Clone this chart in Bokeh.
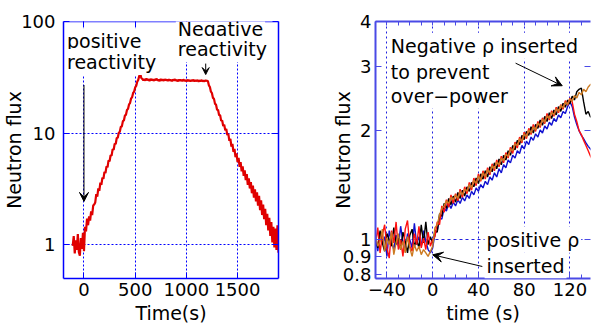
from bokeh.plotting import figure
from bokeh.layouts import row
from bokeh.models import Range1d, LinearAxis, LogAxis, FixedTicker, Label, Arrow, VeeHead, Span
from bokeh.embed import file_html
from bokeh.resources import INLINE

FONT = "DejaVu Sans"

# ---------------- data: left panel (long transient) ----------------
left_time = list(range(-110, 1901, 10))
left_flux = [
    0.98, 1.2, 0.84, 1.1, 0.9, 1.25, 0.86, 0.8, 1.15, 0.92, 1.28, 0.88,
    1.45, 1.32, 1.72, 1.5, 1.8, 1.65, 2.0, 1.85, 2.25, 2.3,
    2.4, 2.85, 2.7, 3.2, 3.05, 3.6, 3.45, 4.0, 3.9, 4.5, 4.4, 5.05, 4.95, 5.7, 5.6,
    6.35, 6.3, 7.2, 7.1, 8.05, 8.0, 9.05, 9.1, 10.1, 10.3, 11.4, 11.5, 12.8, 13.0,
    14.4, 14.6, 16.1, 16.5, 18.1, 18.6, 20.4, 21.0, 22.9, 23.6, 25.7, 26.5, 28.9,
    30.0, 32.5, 34.0,
    31.2, 30.6, 29.7, 30.5, 29.6, 30.8, 29.9, 30.3, 29.4, 30.6, 29.8, 30.4, 29.5,
    30.2, 29.9, 30.7, 29.6, 30.1, 29.3, 30.5, 29.7, 30.2, 29.5, 30.4, 29.8, 30.1,
    29.4, 30.3, 29.6, 30.0, 29.3, 30.2, 29.7, 30.4, 29.5, 29.9, 29.2, 30.1, 29.6,
    29.9, 29.3, 30.2, 29.5, 29.8, 29.2, 30.0, 29.4, 29.9, 29.1, 29.8, 29.4, 30.0,
    29.2, 29.7, 29.3, 29.9, 29.0, 29.6, 29.3, 29.8, 29.1, 29.6, 29.2, 29.7, 29.4,
    29.3, 26.8, 25.9, 23.5, 22.8, 20.7, 20.3, 18.3, 18.0, 16.2, 16.1, 14.5, 14.5,
    12.9, 13.0, 11.6, 11.9, 10.6, 10.9, 9.6, 9.85, 8.55, 8.9, 7.6, 8.0, 6.8, 7.25,
    6.1, 6.6, 5.5, 6.0, 5.0, 5.5, 4.55, 5.05, 4.15, 4.65, 3.8, 4.3, 3.45, 3.95,
    3.2, 3.65, 2.9, 3.4, 2.65, 3.15, 2.45, 2.95, 2.25, 2.75, 2.05, 2.5, 1.85, 2.3,
    1.7, 2.1, 1.5, 1.9, 1.35, 1.75, 1.2, 1.6, 1.05, 1.45, 0.95, 1.4, 0.9, 1.5, 0.85,
]
assert len(left_time) == len(left_flux)

left_xticks = [0, 500, 1000, 1500]
left_xlabels = ["0", "500", "1000", "1500"]
left_yticks = [1, 10, 100]
left_ylabels = ["1", "10", "100"]

# ---------------- data: right panel (zoom, 4 runs) ----------------
right_time = list(range(-50, 141, 2))
run_black = [
    1.02, 0.95, 1.06, 0.98, 0.93, 1.04, 1.0, 0.96, 1.08, 0.97, 1.01, 0.94, 1.05,
    0.99, 0.92, 1.03, 1.07, 0.96, 1.0, 0.95, 1.1, 0.98, 1.12, 0.97, 1.02, 0.98,
    1.06, 1.05, 1.18, 1.16, 1.26, 1.22, 1.30, 1.25, 1.32, 1.27, 1.35, 1.30, 1.37,
    1.32, 1.40, 1.36, 1.44, 1.40, 1.48, 1.43, 1.52, 1.47, 1.55, 1.49, 1.59, 1.54,
    1.63, 1.57, 1.67, 1.61, 1.71, 1.66, 1.76, 1.71, 1.82, 1.77, 1.88, 1.83, 1.94,
    1.89, 1.99, 1.94, 2.05, 1.97, 2.08, 2.03, 2.14, 2.07, 2.19, 2.12, 2.24, 2.16,
    2.28, 2.21, 2.33, 2.26, 2.38, 2.32, 2.43, 2.37, 2.49, 2.43, 2.56, 2.60, 2.62,
    2.40, 2.22, 2.26, 2.18, 2.20,
]
run_red = [
    0.97, 1.08, 0.92, 1.03, 1.1, 0.95, 0.89, 1.06, 0.98, 1.12, 0.94, 1.0, 0.9,
    1.07, 1.13, 0.96, 0.93, 1.04, 0.97, 1.09, 0.95, 1.01, 0.94, 1.05, 0.96, 1.0,
    1.02, 1.12, 1.10, 1.24, 1.19, 1.29, 1.23, 1.33, 1.26, 1.34,
    1.28, 1.38, 1.31, 1.40, 1.34, 1.44, 1.37, 1.48, 1.41, 1.52,
    1.45, 1.55, 1.47, 1.58, 1.51, 1.62, 1.55, 1.66, 1.59, 1.70,
    1.63, 1.74, 1.68, 1.80, 1.73, 1.86, 1.79, 1.92, 1.85, 1.98,
    1.90, 2.03, 1.95, 2.08, 1.99, 2.12, 2.04, 2.17, 2.09, 2.23,
    2.14, 2.27, 2.19, 2.32, 2.24, 2.36, 2.29, 2.42, 2.35, 2.46,
    2.40, 2.22, 2.12, 2.00, 1.95, 1.88, 1.82, 1.76, 1.70, 1.66,
]
run_blue = [
    1.0, 0.93, 1.05, 0.97, 1.02, 0.9, 1.06, 0.99, 0.94, 1.03, 0.96, 1.09, 0.98,
    0.93, 1.04, 1.0, 0.95, 1.11, 0.97, 1.02, 0.96, 1.06, 0.99, 0.94, 0.92, 0.95,
    1.04, 1.06, 1.15, 1.14, 1.22, 1.20, 1.26, 1.22, 1.27, 1.24,
    1.29, 1.26, 1.31, 1.28, 1.33, 1.30, 1.36, 1.33, 1.39, 1.36,
    1.42, 1.39, 1.45, 1.42, 1.49, 1.46, 1.53, 1.49, 1.57, 1.53,
    1.61, 1.58, 1.66, 1.63, 1.71, 1.68, 1.76, 1.73, 1.82, 1.78,
    1.87, 1.83, 1.92, 1.88, 1.96, 1.92, 2.01, 1.97, 2.06, 2.02,
    2.11, 2.07, 2.16, 2.12, 2.21, 2.17, 2.26, 2.23, 2.33, 2.40,
    2.33, 2.18, 2.08, 2.00, 1.94, 1.90, 1.85, 1.81, 1.78, 1.75,
]
run_orange = [
    1.03, 0.96, 0.99, 1.07, 0.93, 1.01, 0.97, 1.05, 0.91, 0.98, 1.04, 0.94, 0.99,
    0.92, 1.02, 0.95, 0.9, 0.97, 0.93, 0.96, 0.91, 0.94, 0.92, 0.9, 0.93, 0.96,
    1.08, 1.10, 1.17, 1.22, 1.24, 1.28, 1.26, 1.31, 1.29, 1.33,
    1.30, 1.36, 1.33, 1.38, 1.36, 1.42, 1.39, 1.46, 1.43, 1.50,
    1.46, 1.53, 1.49, 1.56, 1.53, 1.60, 1.57, 1.64, 1.61, 1.68,
    1.65, 1.72, 1.70, 1.78, 1.76, 1.84, 1.82, 1.90, 1.87, 1.96,
    1.92, 2.01, 1.97, 2.05, 2.01, 2.10, 2.06, 2.15, 2.11, 2.20,
    2.16, 2.25, 2.21, 2.30, 2.26, 2.35, 2.31, 2.40, 2.36, 2.45,
    2.41, 2.50, 2.46, 2.55, 2.51, 2.60, 2.56, 2.64, 2.68, 2.70,
]
for r in (run_black, run_red, run_blue, run_orange):
    assert len(r) == len(right_time)

right_xticks = [-40, 0, 40, 80, 120]
right_xlabels = ["\u221240", "0", "40", "80", "120"]
right_xminor = [-50, -30, -20, -10, 10, 20, 30, 50, 60, 70, 90, 100, 110, 130]
right_yticks = [0.8, 0.9, 1, 2, 3, 4]
right_ylabels = ["0.8", "0.9", "1", "2", "3", "4"]


def style_main_axis(ax, color, width, ticks, labels, minor=None):
    ax.ticker = FixedTicker(ticks=ticks, minor_ticks=minor or [])
    ax.major_label_overrides = {t: l for t, l in zip(ticks, labels)}
    ax.axis_line_color = color
    ax.axis_line_width = width
    ax.major_tick_line_color = color
    ax.major_tick_in = 6
    ax.major_tick_out = 0
    ax.minor_tick_line_color = color if minor else None
    ax.minor_tick_in = 4
    ax.minor_tick_out = 0
    ax.major_label_text_font = FONT
    ax.major_label_text_font_size = "18px"
    ax.major_label_text_color = "black"
    ax.axis_label_text_font = FONT
    ax.axis_label_text_font_size = "19px"
    ax.axis_label_text_font_style = "normal"
    ax.axis_label_text_color = "black"


def frame_axis(cls, color, width, tick_pos, tick_len, line=True):
    # an axis with no major ticks (hence no labels); its tick marks are minor ticks
    ax = cls(ticker=FixedTicker(ticks=[], minor_ticks=tick_pos))
    ax.axis_line_color = color if line else None
    ax.axis_line_width = width
    ax.major_tick_line_color = None
    ax.major_tick_in = 0
    ax.major_tick_out = 0
    ax.minor_tick_line_color = color
    ax.minor_tick_in = tick_len
    ax.minor_tick_out = 0
    ax.major_label_standoff = 0
    return ax


def text_label(p, x, y, txt):
    p.add_layout(Label(x=x, y=y, text=txt, text_font=FONT, text_font_size="19px",
                       text_color="black", text_align="left", text_baseline="alphabetic",
                       background_fill_color="white", background_fill_alpha=1.0,
                       border_line_color=None, padding=2, level="overlay"))


# ---------------- left figure ----------------
LBLUE = "#0000ff"
left = figure(width=300, height=331, x_range=Range1d(-200, 1900), y_range=Range1d(0.5, 100),
              y_axis_type="log", output_backend="svg", toolbar_location=None,
              min_border_left=62, min_border_right=22, min_border_top=20, min_border_bottom=50)
left.outline_line_color = None
left.background_fill_color = "white"
left.border_fill_color = "white"

style_main_axis(left.xaxis[0], LBLUE, 1.5, left_xticks, left_xlabels)
style_main_axis(left.yaxis[0], LBLUE, 1.5, left_yticks, left_ylabels)
left.xaxis[0].axis_label = "Time(s)"
left.yaxis[0].axis_label = "Neutron flux"
left.xaxis[0].major_label_standoff = 4
left.xaxis[0].axis_label_standoff = 3
left.yaxis[0].major_label_standoff = 8
left.yaxis[0].axis_label_standoff = -7
# top edge: ticks from an axis, the edge line itself from a Span under the text boxes
left.add_layout(frame_axis(LinearAxis, LBLUE, 1.5, left_xticks, 6, line=False), "above")
left.add_layout(frame_axis(LogAxis, LBLUE, 1.5, left_yticks, 6), "right")
left.add_layout(Span(location=left.y_range.end, dimension="width", line_color=LBLUE,
                     line_width=1.5, level="underlay"))

left.xgrid.ticker = FixedTicker(ticks=left_xticks)
left.ygrid.ticker = FixedTicker(ticks=[1, 10])
for g in (left.xgrid[0], left.ygrid[0]):
    g.grid_line_color = LBLUE
    g.grid_line_dash = "2 2"
    g.grid_line_width = 1

left.line(left_time, left_flux, line_color="#e00000", line_width=2.2)

text_label(left, -185, 66.6, "positive")
text_label(left, -185, 43.5, "reactivity")
text_label(left, 897, 85.0, "Negative")
text_label(left, 897, 56.6, "reactivity")
left.add_layout(Arrow(x_start=0, y_start=27, x_end=0, y_end=2.45, line_color="black", line_width=1,
                      end=VeeHead(size=9, fill_color="black", line_color="black")))
left.add_layout(Arrow(x_start=1189, y_start=42, x_end=1189, y_end=33.5, line_color="black", line_width=1,
                      end=VeeHead(size=7, fill_color="black", line_color="black")))

# ---------------- right figure ----------------
RBLUE = "#4a4ae6"
GBLUE = "#2020e0"
right = figure(width=291, height=331, x_range=Range1d(-50, 138), y_range=Range1d(0.782, 4),
               y_axis_type="log", output_backend="svg", toolbar_location=None,
               min_border_left=75, min_border_right=1, min_border_top=21, min_border_bottom=53)
right.outline_line_color = None
right.background_fill_color = "white"
right.border_fill_color = "white"

style_main_axis(right.xaxis[0], RBLUE, 2, right_xticks, right_xlabels, right_xminor)
style_main_axis(right.yaxis[0], RBLUE, 2, right_yticks, right_ylabels)
right.xaxis[0].axis_label = "time (s)"
right.yaxis[0].axis_label = "Neutron flux"
right.xaxis[0].major_label_standoff = 4
right.xaxis[0].axis_label_standoff = 3
right.yaxis[0].major_label_standoff = 4
right.yaxis[0].axis_label_standoff = -14
right.add_layout(frame_axis(LinearAxis, RBLUE, 2, right_xticks + right_xminor, 4), "above")
right.add_layout(frame_axis(LogAxis, RBLUE, 2, [1, 2, 3], 6, line=False), "right")

right.xgrid.ticker = FixedTicker(ticks=right_xticks)
right.ygrid.ticker = FixedTicker(ticks=[1])
right.xgrid[0].grid_line_color = GBLUE
right.xgrid[0].grid_line_dash = "2 3"
right.ygrid[0].grid_line_color = GBLUE
right.ygrid[0].grid_line_dash = "3 3"

right.line(right_time, run_blue, line_color="#1010d0", line_width=1.4)
right.line(right_time, run_black, line_color="black", line_width=1.4)
right.line(right_time, run_red, line_color="#ff1010", line_width=1.4)
right.line(right_time, run_orange, line_color="#cc7a22", line_width=1.4)

text_label(right, -38.4, 3.43, "Negative \u03c1 inserted")
text_label(right, -38.4, 2.91, "to prevent")
text_label(right, -38.4, 2.50, "over\u2212power")
text_label(right, 45.4, 1.0, "positive \u03c1")
text_label(right, 45.4, 0.849, "inserted")
right.add_layout(Arrow(x_start=72.5, y_start=3.07, x_end=113.3, y_end=2.66, line_color="black", line_width=1,
                       end=VeeHead(size=10, fill_color="black", line_color="black")))
right.add_layout(Arrow(x_start=43.4, y_start=0.844, x_end=0, y_end=0.909, line_color="black", line_width=1,
                       end=VeeHead(size=10, fill_color="black", line_color="black")))

layout = row(left, right)
open("out.html", "w").write(file_html(layout, INLINE))
